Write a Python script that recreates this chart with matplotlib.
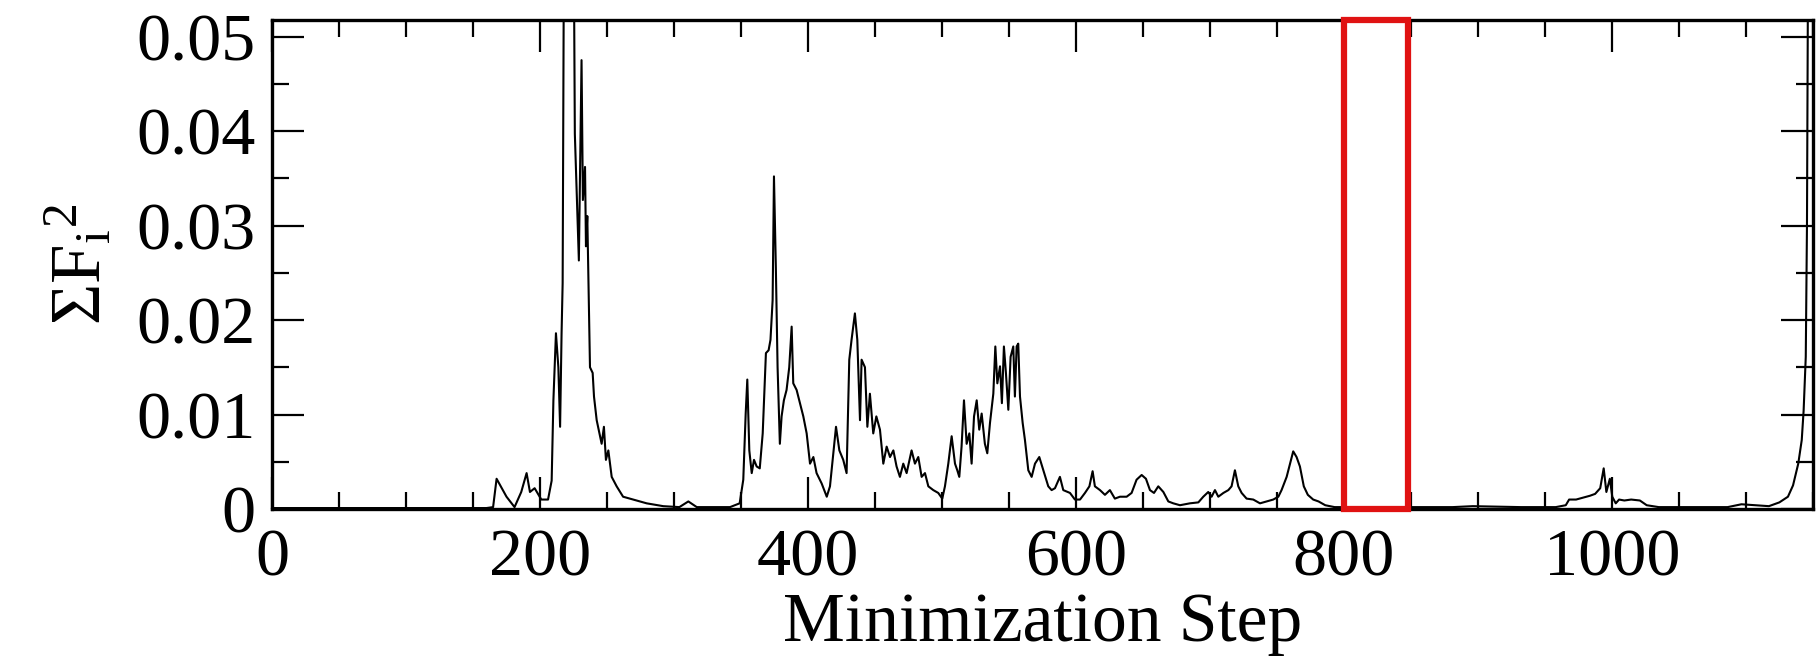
import matplotlib
matplotlib.use("Agg")
import matplotlib.pyplot as plt
from matplotlib.patches import Rectangle
from matplotlib.ticker import MultipleLocator, FuncFormatter

# Sum of squared forces along the minimization trajectory
step = [
    0, 160, 165, 167.6, 175, 181, 186, 190, 192.5, 196, 201, 206, 208.7, 210,
    211.9, 213.7, 215, 216.1, 216.9, 218, 225, 226, 229, 231, 232, 233.6, 234.3,
    235.3, 237.3, 239.3, 240.3, 242.3, 246, 247.7, 249.2, 251, 253.5, 257.2, 262,
    269.6, 279.6, 292, 304, 310.7, 317, 329, 341.8, 349, 351.7, 353.5, 354.7,
    356.2, 358, 359.7, 361.7, 364, 366.2, 367.1, 368.6, 370.6, 372, 373.6, 374.6,
    376, 377.3, 379, 380.3, 382, 384, 386, 387.8, 389, 391.5, 394, 396.5, 399,
    401.5, 404, 406.4, 410.2, 414, 416.4, 418.9, 420.9, 423.4, 426.3, 428.8,
    430.8, 432.5, 435, 436.8, 438.8, 440, 442.5, 444.3, 446.2, 448.7, 451,
    453.7, 456.2, 458.7, 461.2, 463.7, 466.1, 468.6, 471.1, 473.6, 477.3, 479.8,
    482.3, 484.8, 487.3, 489.8, 493.5, 497.2, 500.2, 502.2, 504.7, 507.2, 509.7,
    511.4, 512.9, 514.6, 516.4, 518.4, 520.4, 522.1, 523.9, 525.9, 527.8, 529.6,
    532, 533.8, 535.8, 538.3, 539.8, 541.3, 543.3, 544.7, 546.2, 547.7, 549.5,
    551.2, 553.2, 554.4, 555.7, 556.9, 558.2, 560.2, 561.9, 564.4, 566.9, 569.4,
    572.6, 575.6, 579.3, 581.8, 584.3, 588, 590.5, 595.5, 599.2, 603, 606.7, 610,
    612.4, 614.1, 617.9, 621.6, 625.3, 629, 632.8, 637.8, 641.5, 645.2, 649,
    652.2, 655.2, 658.2, 661.4, 665.2, 668.9, 672.6, 677.6, 685, 691.3, 695,
    698.7, 701.2, 703.7, 706.2, 710, 713.7, 716.1, 718.6, 721.1, 723.6, 727.3,
    732.3, 737.3, 742.3, 747.2, 751, 753.4, 757.2, 759.7, 762.1, 764.6, 767.1,
    770, 773, 777, 781, 786, 793, 852, 881, 896, 932, 958, 965.5, 968, 973.2,
    978.4, 983.5, 987.4, 991.2, 993.8, 995.8, 998.4, 1000.2, 1002.8, 1005.3,
    1009.2, 1014.3, 1020.8, 1025.9, 1034.9, 1060.6, 1086.3, 1096.6, 1106.9,
    1117.1, 1124.9, 1131.3, 1135.1, 1139, 1141.6, 1143, 1144.6, 1145.5, 1146.5,
]
force_sq = [
    0.0001, 0.0001, 0.0002, 0.0032, 0.0013, 0.0002, 0.0018, 0.0038, 0.0018,
    0.0022, 0.0010, 0.0010, 0.0030, 0.0115, 0.0186, 0.0150, 0.0087, 0.0186,
    0.0239, 0.0650, 0.0650, 0.0397, 0.0263, 0.0475, 0.0327, 0.0362, 0.0278,
    0.0310, 0.0150, 0.0144, 0.0119, 0.0094, 0.0069, 0.0087, 0.0052, 0.0062,
    0.0034, 0.0024, 0.0013, 0.0010, 0.0006, 0.0003, 0.0002, 0.0008, 0.0002,
    0.0002, 0.0002, 0.0006, 0.0031, 0.0101, 0.0137, 0.0062, 0.0038, 0.0052,
    0.0045, 0.0043, 0.0080, 0.0112, 0.0165, 0.0168, 0.0179, 0.0221, 0.0352,
    0.0256, 0.0150, 0.0069, 0.0098, 0.0115, 0.0126, 0.0150, 0.0193, 0.0133,
    0.0126, 0.0112, 0.0098, 0.0080, 0.0048, 0.0055, 0.0038, 0.0027, 0.0013,
    0.0024, 0.0059, 0.0087, 0.0062, 0.0052, 0.0038, 0.0158, 0.0179, 0.0207,
    0.0179, 0.0094, 0.0158, 0.0150, 0.0087, 0.0122, 0.0080, 0.0098,
    0.0084, 0.0048, 0.0066, 0.0055, 0.0062, 0.0045, 0.0034, 0.0048, 0.0038,
    0.0062, 0.0048, 0.0055, 0.0034, 0.0038, 0.0024, 0.0020, 0.0017, 0.0011,
    0.0024, 0.0048, 0.0077, 0.0048, 0.0041, 0.0034, 0.0066, 0.0115, 0.0069,
    0.0080, 0.0048, 0.0098, 0.0115, 0.0084, 0.0101, 0.0069, 0.0059, 0.0091,
    0.0122, 0.0172, 0.0133, 0.0151, 0.0112, 0.0172, 0.0144, 0.0105, 0.0161,
    0.0172, 0.0119, 0.0172, 0.0175, 0.0119, 0.0091, 0.0073, 0.0041, 0.0034,
    0.0048, 0.0055, 0.0041, 0.0024, 0.0020, 0.0022, 0.0034, 0.0020, 0.0017,
    0.0010, 0.0010, 0.0017, 0.0024, 0.0040, 0.0024, 0.0020, 0.0015, 0.0020,
    0.0011, 0.0013, 0.0013, 0.0017, 0.0031, 0.0036, 0.0032, 0.0020, 0.0017,
    0.0024, 0.0018, 0.0008, 0.0006, 0.0004, 0.0006, 0.0007, 0.0013, 0.0018,
    0.0013, 0.0020, 0.0013, 0.0017, 0.0020, 0.0024, 0.0041, 0.0024, 0.0017,
    0.0011, 0.0010, 0.0006, 0.0008, 0.0010, 0.0013, 0.0020, 0.0034, 0.0048,
    0.0061, 0.0055, 0.0045, 0.0024, 0.0015, 0.0010, 0.0008, 0.0004, 0.0002,
    0.0002, 0.0002, 0.0003, 0.0002, 0.0002, 0.0004, 0.0010, 0.0010, 0.0012,
    0.0014, 0.0016, 0.0022, 0.0043, 0.0018, 0.0032, 0.0013, 0.0006, 0.0010,
    0.0009, 0.0010, 0.0009, 0.0004, 0.0002, 0.0002, 0.0002, 0.0005, 0.0004,
    0.0003, 0.0007, 0.0013, 0.0025, 0.0048, 0.0073, 0.0104, 0.0161, 0.0300,
    0.0650,
]

x_range = (0, 1150)
y_range = (0, 0.05175)
x_major = [0, 200, 400, 600, 800, 1000]
y_major = [0, 0.01, 0.02, 0.03, 0.04, 0.05]
window = (800, 848)  # highlighted step window

plt.rcParams['font.family'] = ['Liberation Serif', 'DejaVu Serif']
plt.rcParams['mathtext.fontset'] = 'custom'
plt.rcParams['mathtext.rm'] = 'Liberation Serif'
plt.rcParams['mathtext.it'] = 'Liberation Serif:italic'

fig = plt.figure(figsize=(18.2, 6.56), dpi=100)
ax = fig.add_axes([272 / 1820, 147 / 656, (1813 - 272) / 1820, (509 - 20) / 656])

ax.plot(step, force_sq, color='black', lw=1.5)

ax.set_xlim(*x_range)
ax.set_ylim(*y_range)
ax.set_xticks(x_major)
ax.set_yticks(y_major)
ax.xaxis.set_minor_locator(MultipleLocator(50))
ax.yaxis.set_minor_locator(MultipleLocator(0.005))
ax.yaxis.set_major_formatter(FuncFormatter(lambda v, _: '0' if abs(v) < 1e-12 else f'{v:.2f}'))
ax.xaxis.set_major_formatter(FuncFormatter(lambda v, _: f'{int(round(v))}'))

ax.tick_params(which='both', direction='in', top=True, right=True,
               width=1.6, color='black', labelsize=49)
ax.tick_params(which='major', length=23)
ax.tick_params(which='minor', length=12)
ax.tick_params(axis='x', pad=14)
ax.tick_params(axis='y', pad=12)

for sp in ax.spines.values():
    sp.set_linewidth(2.4)

ax.add_patch(Rectangle((window[0], y_range[0]), window[1] - window[0],
                       y_range[1] - y_range[0], fill=False,
                       edgecolor='#e01212', lw=4.5, joinstyle='miter',
                       clip_on=False, zorder=5))

ax.set_xlabel('Minimization Step', fontsize=50, labelpad=2)
ax.set_ylabel(r'$\mathrm{\Sigma F}_{\mathrm{i}}{}^{\mathrm{2}}$', fontsize=51, labelpad=14)

fig.savefig('out.png', dpi=100)
